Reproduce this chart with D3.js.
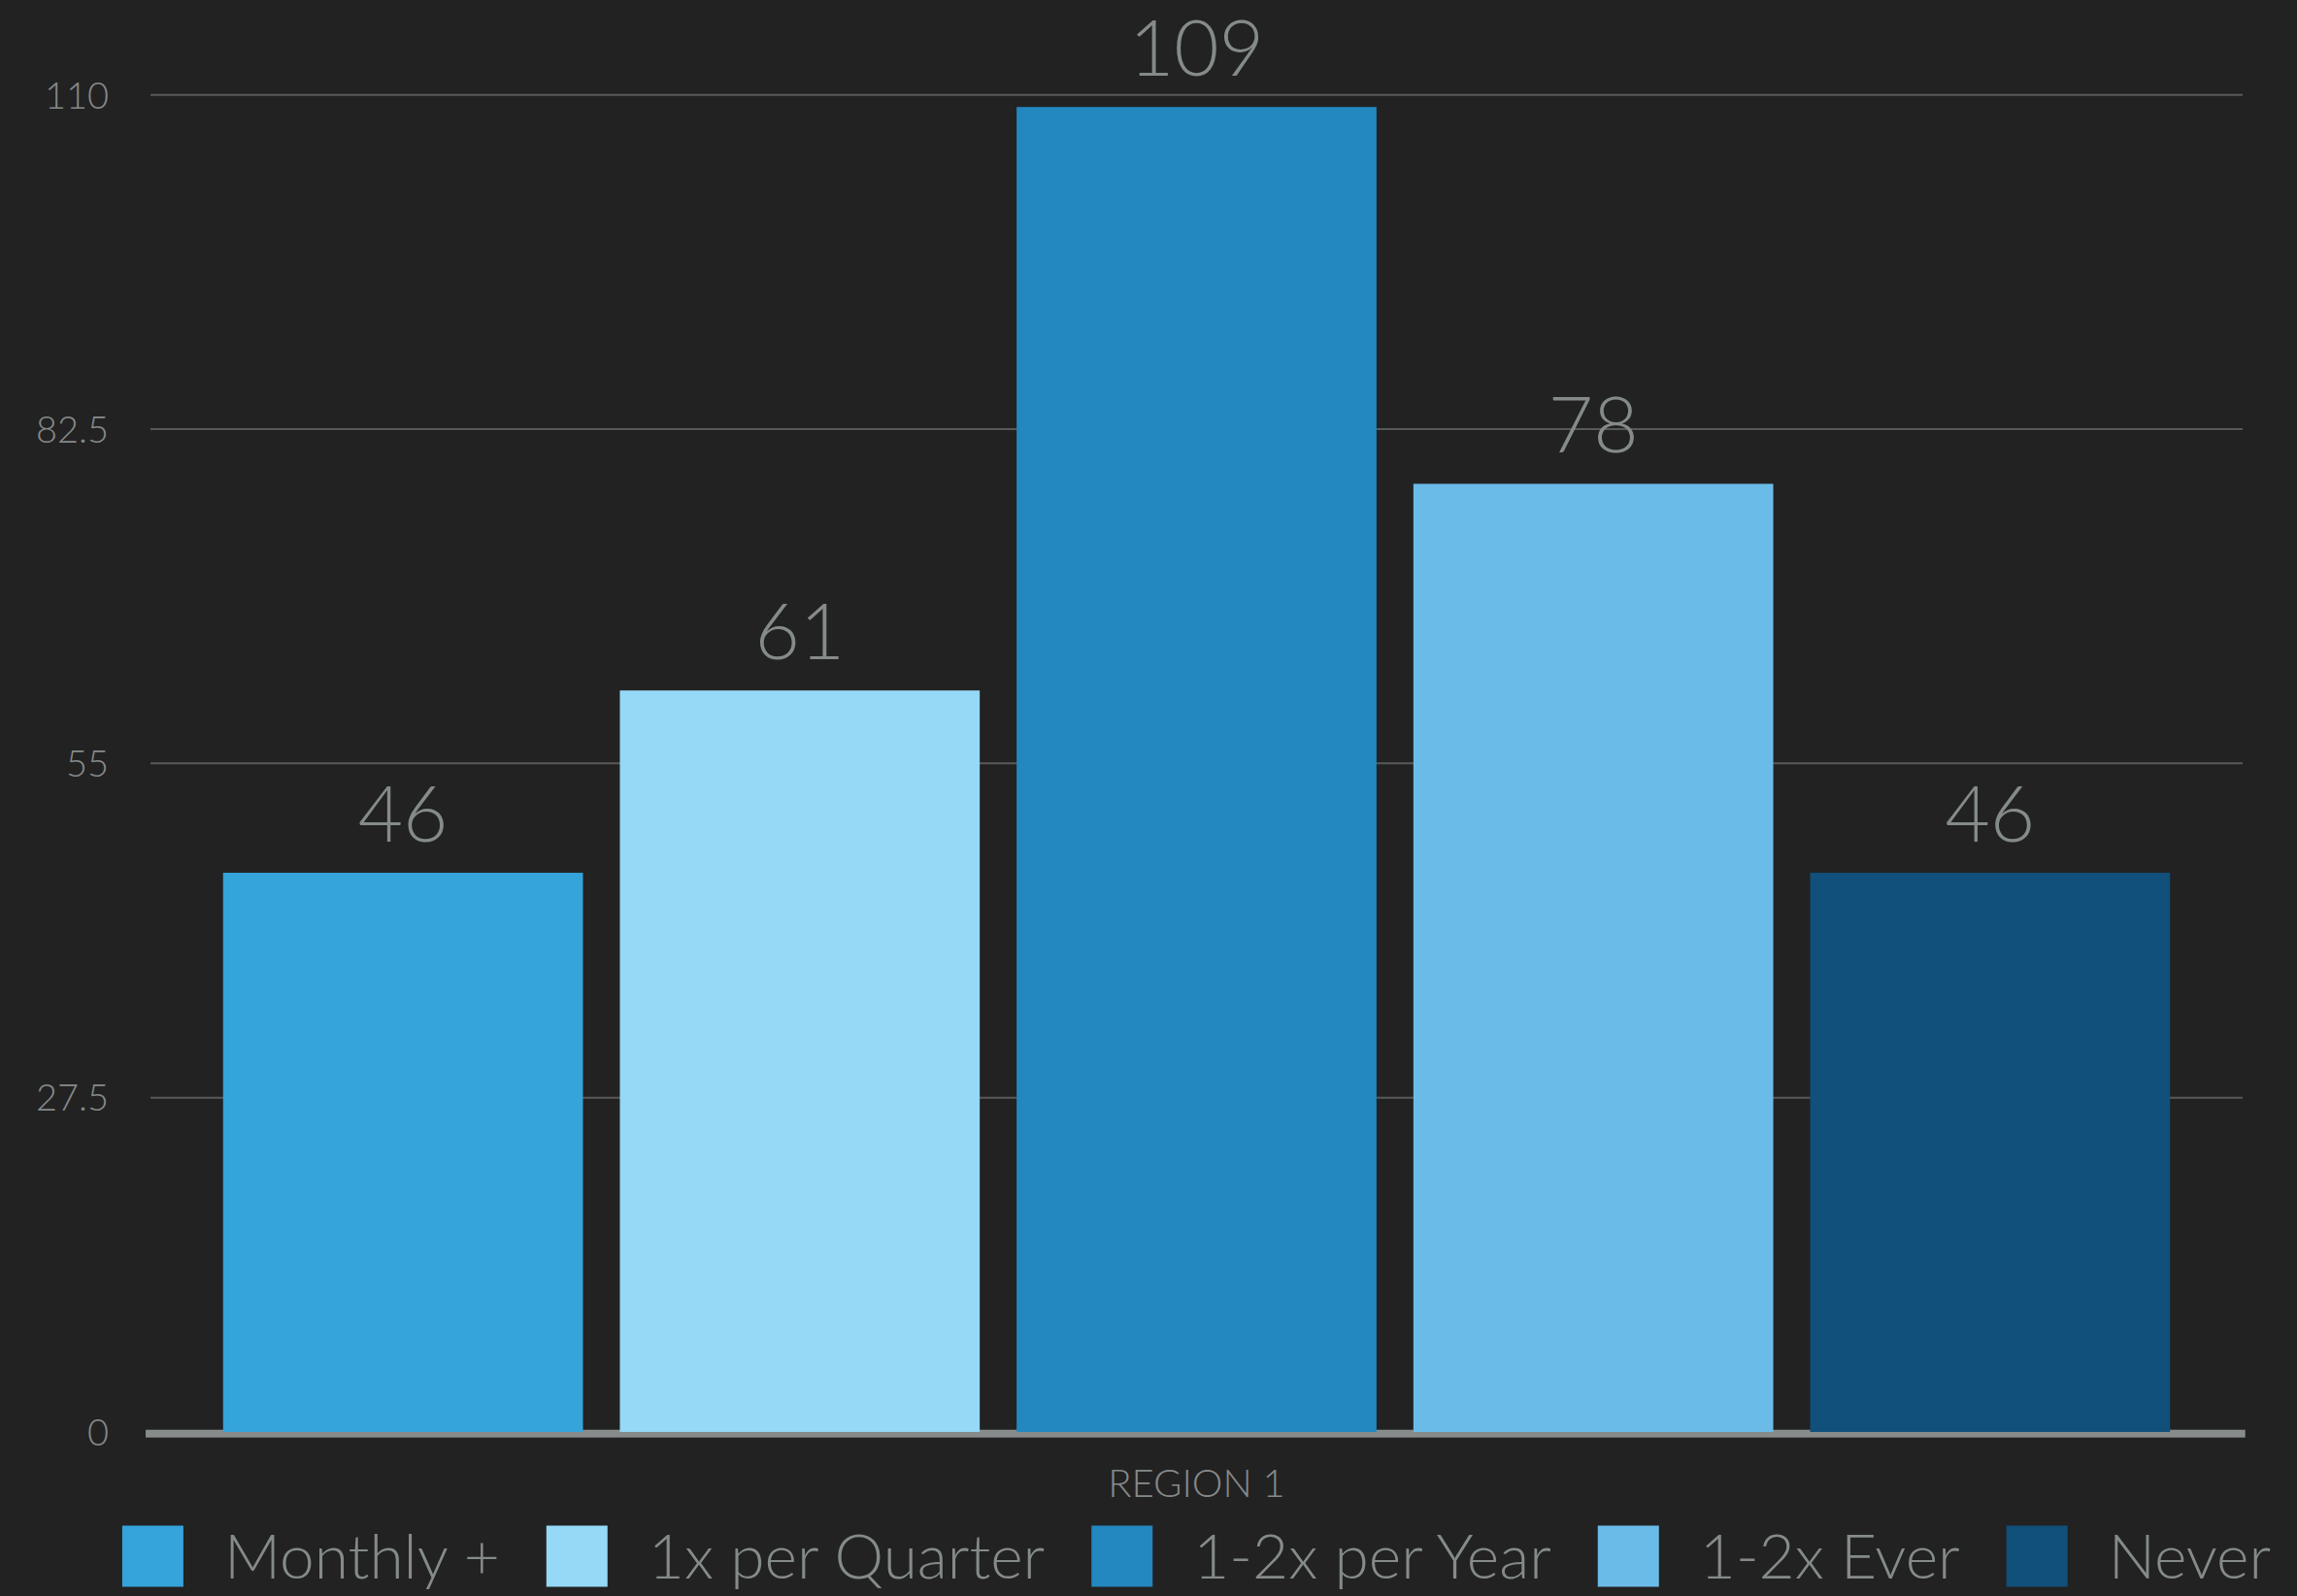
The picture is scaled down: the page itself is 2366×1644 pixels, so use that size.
<!DOCTYPE html>
<html>
<head>
<meta charset="utf-8">
<script src="https://cdn.jsdelivr.net/npm/d3@7"></script>
<style>
  html, body { margin: 0; padding: 0; background: #222222; }
  svg { display: block; }
  text { font-family: "Lato", "Open Sans", sans-serif; }
</style>
</head>
<body>
<svg id="chart" width="2366" height="1644"></svg>
<script>
const categories = ["Monthly +", "1x per Quarter", "1-2x per Year", "1-2x Ever", "Never"];
const values = [46, 61, 109, 78, 46];
const colors = ["#34A4DB", "#95D9F6", "#2388BF", "#6BBBE9", "#10507B"];
const yTicks = [0, 27.5, 55, 82.5, 110];
const yTickLabels = ["0", "27.5", "55", "82.5", "110"];
const groupLabel = "REGION 1";

const W = 2366, H = 1644;
const plotLeft = 155, plotRight = 2310, plotTop = 97.7, plotBottom = 1475;
const textColor = "#858a8a";

const svg = d3.select("#chart");
svg.append("rect").attr("width", W).attr("height", H).attr("fill", "#222222");

const y = d3.scaleLinear().domain([0, 110]).range([plotBottom, plotTop]);
const x = d3.scaleBand().domain(categories).range([plotLeft, plotRight])
  .paddingInner(0.093).paddingOuter(0.183);

// gridlines
const grid = svg.append("g");
grid.selectAll("line").data(yTicks.filter(d => d > 0)).join("line")
  .attr("x1", plotLeft).attr("x2", plotRight)
  .attr("y1", d => y(d)).attr("y2", d => y(d))
  .attr("stroke", "#585a5a").attr("stroke-width", 2);

// y axis labels
const yAxis = d3.axisLeft(y).tickValues(yTicks).tickSize(0).tickPadding(0)
  .tickFormat((d, i) => yTickLabels[i]);
const gy = svg.append("g").attr("transform", `translate(112,0)`).call(yAxis);
gy.select(".domain").remove();
gy.selectAll("text").attr("fill", textColor).attr("font-size", 38).attr("font-weight", 300)
  .attr("dy", "0.35em").attr("x", 0);

// baseline
svg.append("line").attr("x1", 150).attr("x2", 2312.7)
  .attr("y1", y(0) + 1.7).attr("y2", y(0) + 1.7)
  .attr("stroke", "#878b8b").attr("stroke-width", 8);

// bars
svg.append("g").selectAll("rect").data(categories).join("rect")
  .attr("x", d => x(d)).attr("width", x.bandwidth())
  .attr("y", (d, i) => y(values[i]))
  .attr("height", (d, i) => y(0) - y(values[i]))
  .attr("fill", (d, i) => colors[i]);

// value labels
svg.append("g").selectAll("text").data(categories).join("text")
  .attr("x", d => x(d) + x.bandwidth() / 2)
  .attr("y", (d, i) => y(values[i]) - 32)
  .attr("text-anchor", "middle")
  .attr("fill", textColor).attr("font-size", 80).attr("font-weight", 300)
  .text((d, i) => values[i]);

// group label
svg.append("text").attr("x", (plotLeft + plotRight) / 2).attr("y", 1542)
  .attr("text-anchor", "middle").attr("fill", textColor)
  .attr("font-size", 40).attr("font-weight", 300).text(groupLabel);

// legend (flow layout, centered)
const sq = 63, textGap = 42, itemGap = 48, legendFont = 64;
const lg = svg.append("g");
const items = lg.selectAll("g").data(categories).join("g");
items.append("rect").attr("width", sq).attr("height", sq).attr("y", 1571.5)
  .attr("fill", (d, i) => colors[i]);
items.append("text").attr("x", sq + textGap).attr("y", 1626)
  .attr("fill", textColor).attr("font-size", legendFont).attr("font-weight", 300)
  .text(d => d);
let offsets = [], cur = 0;
items.each(function() {
  const tw = d3.select(this).select("text").node().getComputedTextLength();
  offsets.push(cur);
  cur += sq + textGap + tw + itemGap;
});
const totalW = cur - itemGap;
const startX = (plotLeft + plotRight) / 2 - totalW / 2;
items.attr("transform", (d, i) => `translate(${startX + offsets[i]},0)`);
</script>
</body>
</html>
